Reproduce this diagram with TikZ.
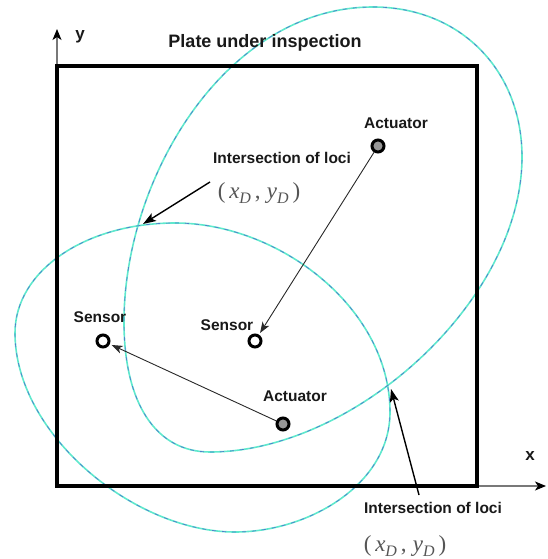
\documentclass[tikz,border=0pt]{standalone}
\usepackage{fontspec}
\setmainfont{Liberation Sans}
\newfontfamily\tmsfont{Liberation Serif}
\usetikzlibrary{arrows.meta}
\definecolor{locbase}{RGB}{95,232,205}
\definecolor{locdash}{RGB}{80,125,205}
\definecolor{txtcol}{RGB}{25,25,25}
\definecolor{mathcol}{RGB}{85,85,85}
\definecolor{axiscol}{RGB}{120,120,120}
\definecolor{actfill}{RGB}{150,150,150}
\newcommand{\xyD}{{\tmsfont\fontsize{23}{25}\selectfont (\,\textit{x}\raisebox{-5pt}{\fontsize{16}{16}\selectfont\textit{D}}\,,\;\textit{y}\raisebox{-5pt}{\fontsize{16}{16}\selectfont\textit{D}}\,)}}
\begin{document}
\begin{tikzpicture}[x=1pt,y=-1pt,
  lbl/.style={text=txtcol,font=\fontsize{15.5}{17}\selectfont\bfseries,inner sep=0pt},
  ttl/.style={text=txtcol,font=\fontsize{18}{20}\selectfont\bfseries,inner sep=0pt},
  mth/.style={text=mathcol,inner sep=0pt},
  sensorpt/.style={circle,draw=black,line width=3pt,fill=white,minimum size=12pt,inner sep=0pt},
  actpt/.style={circle,draw=black,line width=3pt,fill=actfill,minimum size=12pt,inner sep=0pt},
  conn/.style={draw={rgb,255:red,40;green,40;blue,40},line width=0.9pt,shorten >=2pt,
    -{Stealth[length=11pt,width=8pt,inset=3pt]}},
  ptr/.style={draw=black,line width=1.4pt,-{Stealth[length=13pt,width=9pt,inset=3pt]}},
  axisline/.style={draw=axiscol,line width=1.2pt,-{Stealth[length=11pt,width=9pt,inset=3pt,color=black]}},
  plate/.style={draw=black,line width=4pt},
  locbasestyle/.style={draw=locbase,line width=1.6pt},
  locdashstyle/.style={draw=locdash,line width=0.7pt,dash pattern=on 4pt off 6pt}
]
\useasboundingbox (0,0) rectangle (547,559);

% loci
\foreach \s in {locbasestyle,locdashstyle}{
\draw[\s] (373,7) .. controls (460,7) and (522,70) .. (522,157)
  .. controls (522,301) and (354,452) .. (210,452)
  .. controls (155,452) and (124,402) .. (124,322)
  .. controls (124,176) and (227,7) .. (373,7) -- cycle;
\draw[\s] (175,223) .. controls (279,223) and (390,308) .. (390,412)
  .. controls (390,485) and (308,532) .. (235,532)
  .. controls (134,532) and (15,434) .. (15,333)
  .. controls (15,271) and (85,223) .. (175,223) -- cycle;
}

% plate and axes
\coordinate (ybase) at (57,66);
\coordinate (ytip) at (57,29);
\coordinate (xbase) at (477,486);
\coordinate (xtip) at (546,486);
\draw[axisline] (ybase) -- (ytip);
\draw[axisline] (xbase) -- (xtip);
\draw[plate] (57,66) rectangle (477,486);
\node[lbl,font=\fontsize{17}{18}\selectfont\bfseries] (ylab) at (80,37) {y};
\node[lbl,font=\fontsize{17}{18}\selectfont\bfseries] (xlab) at (530,456) {x};
\node[ttl] (title) at (265,43) {Plate under inspection};

% transducers
\node[actpt] (a1) at (378,146) {};
\node[sensorpt] (s1) at (255,341) {};
\node[sensorpt] (s2) at (103,341) {};
\node[actpt] (a2) at (283,424) {};
\node[lbl] (a1lab) at (396,123) {Actuator};
\node[lbl] (s1lab) at (227,325) {Sensor};
\node[lbl] (s2lab) at (100,317) {Sensor};
\node[lbl] (a2lab) at (295,396) {Actuator};

\draw[conn] (a1) -- (s1);
\draw[conn] (a2) -- (s2);

% intersections
\coordinate (i1) at (143,224);
\coordinate (i1t) at (210,182);
\coordinate (i2) at (391,389);
\coordinate (i2t) at (419,495);
\draw[ptr] (i1t) -- (i1);
\draw[ptr] (i2t) -- (i2);
\node[lbl] (il1) at (282,158) {Intersection of loci};
\node[mth] (xy1) at (259,193) {\xyD};
\node[lbl] (il2) at (433,508) {Intersection of loci};
\node[mth] (xy2) at (405,546) {\xyD};
\end{tikzpicture}
\end{document}
